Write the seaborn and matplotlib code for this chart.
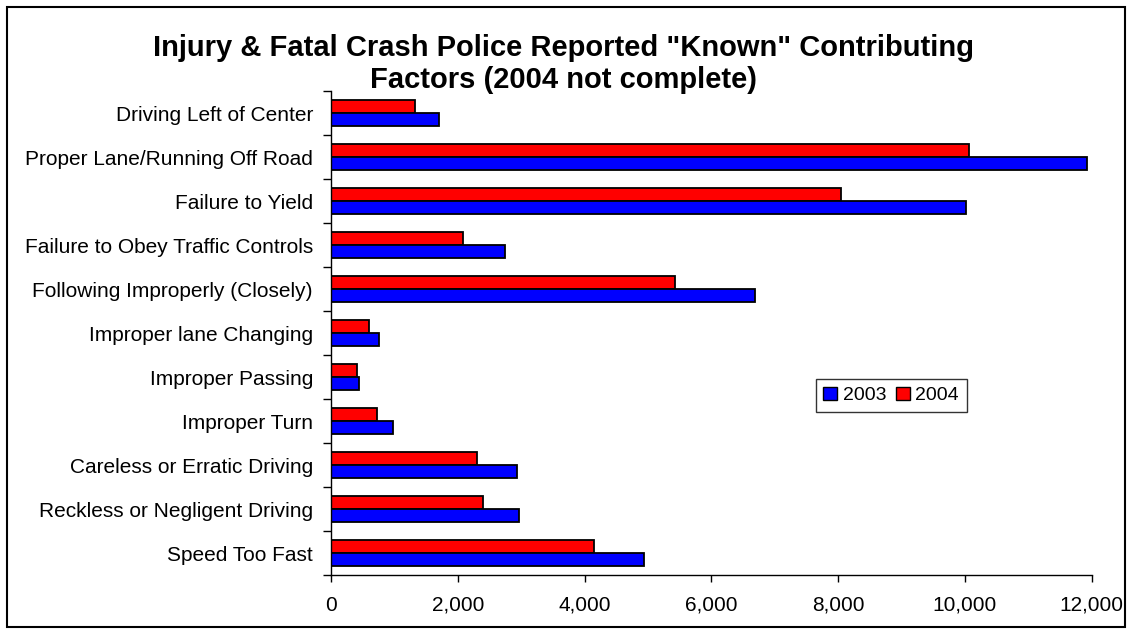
import matplotlib
matplotlib.use("Agg")
import matplotlib.pyplot as plt
import numpy as np
import pandas as pd
import seaborn as sns
from matplotlib.patches import Patch, Rectangle

# contributing factors, top to bottom as in the chart
factors = [
    "Driving Left of Center",
    "Proper Lane/Running Off Road",
    "Failure to Yield",
    "Failure to Obey Traffic Controls",
    "Following Improperly (Closely)",
    "Improper lane Changing",
    "Improper Passing",
    "Improper Turn",
    "Careless or Erratic Driving",
    "Reckless or Negligent Driving",
    "Speed Too Fast",
]
counts_2003 = [1710, 11920, 10020, 2750, 6690, 760, 440, 980, 2940, 2970, 4940]
counts_2004 = [1330, 10060, 8050, 2080, 5430, 600, 410, 730, 2310, 2400, 4150]
years = ["2003", "2004"]
xticks = [0, 2000, 4000, 6000, 8000, 10000, 12000]

df = pd.DataFrame({
    "Factor": factors * 2,
    "Count": counts_2003 + counts_2004,
    "Year": ["2003"] * len(factors) + ["2004"] * len(factors),
})

sns.set_style("white")
plt.rcParams["font.family"] = ["Liberation Sans", "DejaVu Sans"]
plt.rcParams["text.color"] = "black"
plt.rcParams["xtick.color"] = "black"
plt.rcParams["ytick.color"] = "black"

colors = {"2003": "#0000FF", "2004": "#FF0000"}

fig = plt.figure(figsize=(11.27, 6.31), dpi=100)
ax = fig.add_axes([0.2937, 0.0887, 0.6750, 0.7670])

# 2004 listed first so its bar sits above the 2003 bar in each group
sns.barplot(data=df, x="Count", y="Factor", hue="Year", hue_order=["2004", "2003"],
            order=factors, palette=colors, saturation=1, width=0.6, edgecolor="black",
            linewidth=1.3, ax=ax, legend=False)

ax.set_xlim(0, 12000)
ax.set_ylim(len(factors) - 0.5, -0.5)
ax.set_xticks(xticks)
ax.set_xticklabels([f"{v:,}" for v in xticks], fontsize=15)
ax.set_yticks(range(len(factors)))
ax.set_yticklabels(factors, fontsize=15)
ax.set_yticks(np.arange(-0.5, len(factors)), minor=True)
ax.tick_params(axis="y", which="major", length=0, pad=13)
ax.tick_params(axis="y", which="minor", length=6, width=1, direction="out", left=True)
ax.tick_params(axis="x", length=5, width=1, direction="out", bottom=True, pad=10)
ax.set_xlabel("")
ax.set_ylabel("")

for side in ["top", "right"]:
    ax.spines[side].set_visible(False)
for side in ["left", "bottom"]:
    ax.spines[side].set_color("black")
    ax.spines[side].set_linewidth(1)

handles = [Patch(facecolor=colors[y], edgecolor="black", label=y) for y in years]
leg = ax.legend(handles=handles, ncol=2, loc="upper left", bbox_to_anchor=(0.637, 0.405),
                frameon=True, fancybox=False, fontsize=14, handlelength=0.7,
                handleheight=0.7, handletextpad=0.3, columnspacing=0.5, borderpad=0.4,
                borderaxespad=0)
leg.get_frame().set_edgecolor("black")
leg.get_frame().set_linewidth(1)

fig.text(0.5, 0.899, "Injury & Fatal Crash Police Reported \"Known\" Contributing\nFactors (2004 not complete)",
         ha="center", va="center", fontsize=21, fontweight="bold", linespacing=1.2)

fig.patches.append(Rectangle((0.0062, 0.0063), 0.9920, 0.9826, transform=fig.transFigure,
                             fill=False, edgecolor="black", linewidth=1.5))

fig.savefig("out.png", dpi=100)
